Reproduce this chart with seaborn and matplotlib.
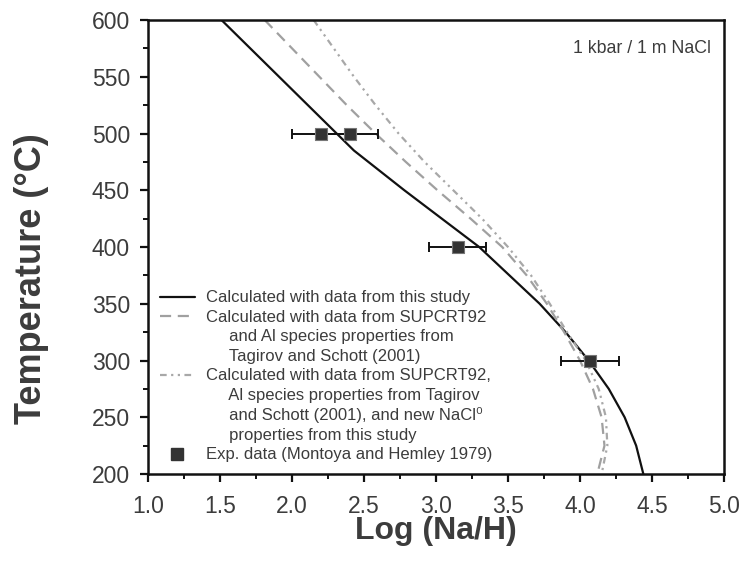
import matplotlib
matplotlib.use("Agg")
import matplotlib.pyplot as plt
import seaborn as sns
import pandas as pd
from matplotlib.lines import Line2D
from matplotlib.ticker import MultipleLocator

# Data
T_study = [600, 575, 550, 525, 500, 485, 470, 450, 425, 400, 375, 350, 325, 300, 275, 250, 225, 200]
log_study = [1.51, 1.71, 1.91, 2.11, 2.31, 2.43, 2.58, 2.78, 3.04, 3.30, 3.51, 3.72, 3.90, 4.06,
             4.20, 4.31, 4.39, 4.44]

T_supcrt = [600, 575, 550, 525, 500, 475, 450, 425, 400, 375, 350, 325, 300, 275, 250, 225, 200]
log_supcrt = [1.81, 2.00, 2.19, 2.38, 2.58, 2.79, 3.01, 3.24, 3.46, 3.63, 3.77, 3.89, 4.00, 4.09,
              4.15, 4.17, 4.12]

T_new = [600, 575, 550, 525, 500, 475, 450, 425, 400, 375, 350, 325, 300, 275, 250, 225, 200]
log_new = [2.15, 2.29, 2.43, 2.58, 2.74, 2.92, 3.12, 3.32, 3.50, 3.66, 3.79, 3.91, 4.04, 4.13,
           4.18, 4.19, 4.15]

T_exp = [500, 500, 400, 300]
log_exp = [2.20, 2.40, 3.15, 4.07]
xerr_exp = [0.20, 0.20, 0.20, 0.20]

label_study = ["Calculated with data from this study"]
label_supcrt = ["Calculated with data from SUPCRT92",
                "     and Al species properties from",
                "     Tagirov and Schott (2001)"]
label_new = ["Calculated with data from SUPCRT92,",
             "     Al species properties from Tagirov",
             "     and Schott (2001), and new NaCl\u2070",
             "     properties from this study"]
label_exp = ["Exp. data (Montoya and Hemley 1979)"]

sns.set_theme(style="ticks")
plt.rcParams['font.family'] = ['Liberation Sans', 'DejaVu Sans']

TXT = "#3c3c3c"
fig = plt.figure(figsize=(7.45, 5.63), dpi=100)
ax = fig.add_axes([0.1987, 0.158, 0.7731, 0.8065])

df1 = pd.DataFrame({"x": log_study, "T": T_study})
df2 = pd.DataFrame({"x": log_supcrt, "T": T_supcrt})
df3 = pd.DataFrame({"x": log_new, "T": T_new})

dash = (0, (5, 3))
dashdot = (0, (3, 2, 1, 2, 1, 2))
sns.lineplot(data=df1, x="x", y="T", sort=False, estimator=None, color="#111111", lw=1.6, ax=ax)
sns.lineplot(data=df2, x="x", y="T", sort=False, estimator=None, color="#a0a0a0", lw=1.6,
             linestyle=dash, ax=ax)
sns.lineplot(data=df3, x="x", y="T", sort=False, estimator=None, color="#a8a8a8", lw=1.6,
             linestyle=dashdot, ax=ax)

ax.errorbar(log_exp, T_exp, xerr=xerr_exp, fmt="none", ecolor="#111111", elinewidth=1.4,
            capsize=3.8, capthick=1.4, zorder=4)
sns.scatterplot(x=log_exp, y=T_exp, marker="s", s=78, color="#333333", edgecolor="#777777",
                linewidth=0.8, zorder=5, ax=ax)

ax.set_xlim(1.0, 5.0)
ax.set_ylim(200, 600)
ax.xaxis.set_major_locator(MultipleLocator(0.5))
ax.xaxis.set_minor_locator(MultipleLocator(0.25))
ax.yaxis.set_major_locator(MultipleLocator(50))
ax.yaxis.set_minor_locator(MultipleLocator(25))
ax.set_xticks(ax.get_xticks())
ax.set_xticklabels([f"{v:.1f}" for v in ax.get_xticks()])
ax.set_xlim(1.0, 5.0)

for s in ax.spines.values():
    s.set_linewidth(1.8)
    s.set_color("#111111")
ax.tick_params(axis="both", which="major", length=6, width=1.6, labelsize=16.5,
               labelcolor=TXT, color="#111111")
ax.tick_params(axis="x", which="major", pad=9)
ax.tick_params(axis="y", which="major", pad=7)
ax.tick_params(axis="both", which="minor", length=3.5, width=1.4, color="#111111")

ax.set_xlabel("Log (Na/H)", fontsize=23, fontweight="bold", color=TXT)
ax.set_ylabel("Temperature (\u00b0C)", fontsize=26, fontweight="bold", color=TXT)
ax.xaxis.set_label_coords(0.5, -0.093)
ax.yaxis.set_label_coords(-0.172, 0.43)

ax.text(0.977, 0.955, "1 kbar / 1 m NaCl", transform=ax.transAxes, ha="right", va="top",
        fontsize=12.8, color=TXT)

blank = Line2D([], [], color="none", lw=0)
h_study = Line2D([], [], color="#111111", lw=1.6)
h_supcrt = Line2D([], [], color="#a0a0a0", lw=1.6, linestyle=dash)
h_new = Line2D([], [], color="#a8a8a8", lw=1.6, linestyle=dashdot)
h_exp = Line2D([], [], color="#333333", marker="s", markersize=8, linestyle="none")

handles = ([h_study] + [h_supcrt] + [blank] * (len(label_supcrt) - 1)
           + [h_new] + [blank] * (len(label_new) - 1) + [h_exp])
labels = label_study + label_supcrt + label_new + label_exp

leg = ax.legend(handles, labels, loc="lower left", bbox_to_anchor=(0.0, 0.0), frameon=False,
                fontsize=12, handlelength=2.1, handletextpad=0.65, labelspacing=0.27,
                borderaxespad=0.5, borderpad=0.2)
for t in leg.get_texts():
    t.set_color(TXT)

fig.savefig("out.png", dpi=100)
